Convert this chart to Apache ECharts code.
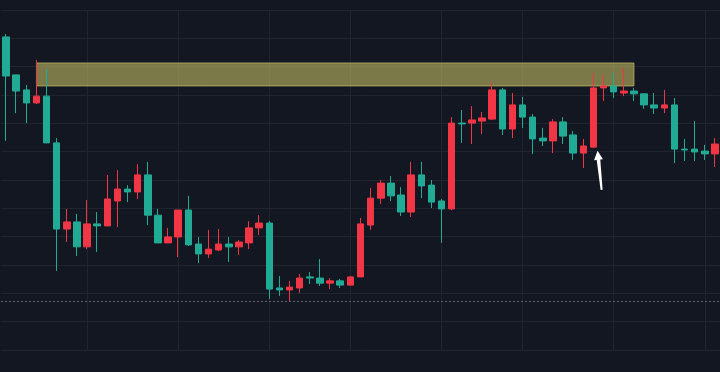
<!DOCTYPE html>
<html>
<head>
<meta charset="utf-8">
<script src="https://cdn.jsdelivr.net/npm/echarts@6/dist/echarts.min.js"></script>
<style>
html,body{margin:0;padding:0;background:#131722;}
#c{width:720px;height:372px;}
</style>
</head>
<body>
<div id="c"></div>
<script>
// 71 sessions (no labels shown in the reference)
const categories = Array.from({length: 71}, (_, i) => 'S' + (i + 1));

const opens = [110.5,97.1,91.8,87.2,89.6,73.1,42.7,45.2,36.4,44.5,
  43.8,52.6,56.8,55.8,61.8,47.6,37.8,39.9,49.4,37.4,
  33.9,35.3,37.4,36.4,37.8,43.1,44.8,21.9,21.2,21.9,
  25.8,25.4,23.6,24.4,22.9,25.8,44.1,53.6,58.9,54.7,
  48.7,61.8,58.2,52.6,49.8,80.1,80.1,80.8,81.5,91.8,
  78.0,86.5,82.2,74.8,73.8,80.5,75.9,69.5,71.6,92.5,
  93.2,90.7,91.4,90.4,86.5,85.4,86.5,70.9,70.9,70.2,
  69.2];
const closes = [96.7,91.4,87.2,89.6,73.1,42.7,45.2,36.4,44.5,43.8,
  53.3,56.8,55.8,61.8,47.6,37.8,39.9,49.4,37.1,33.9,
  35.6,37.4,36.4,38.1,43.1,44.8,21.5,21.2,22.2,25.4,
  25.4,23.6,24.4,22.9,25.8,44.5,53.6,58.9,54.4,48.7,
  61.8,57.9,52.2,49.8,80.1,79.8,81.2,81.9,91.8,78.0,
  86.5,82.2,74.5,73.8,80.5,75.5,69.5,72.0,92.5,93.2,
  91.1,91.4,90.4,86.5,85.4,86.5,70.9,70.6,69.9,69.2,
  72.7];
const lows = [73.8,83.6,80.1,86.8,73.1,27.9,38.1,33.2,35.6,34.6,
  43.8,43.4,52.2,53.3,44.1,37.8,37.8,32.8,36.7,30.7,
  32.5,34.9,31.1,33.5,35.6,40.6,18.0,19.1,17.3,20.1,
  23.3,22.6,21.5,21.9,22.9,25.8,42.4,51.5,52.6,47.3,
  46.9,53.6,50.1,37.8,49.4,73.1,72.7,76.2,81.2,75.9,
  74.8,78.4,69.2,72.0,69.5,72.7,67.1,64.2,71.3,87.9,
  88.9,89.6,87.9,85.1,83.3,83.6,66.0,66.7,66.7,67.1,
  64.6];
const highs = [111.5,97.1,93.5,102.4,99.2,74.8,49.8,48.0,52.9,48.7,
  61.8,63.5,58.2,65.6,66.4,49.8,43.1,49.4,54.4,39.9,
  42.4,42.7,39.9,38.8,45.5,47.6,45.5,26.1,24.4,26.8,
  27.5,32.1,25.4,25.1,26.1,46.6,57.2,60.0,61.4,57.5,
  66.4,66.4,60.0,53.3,82.2,84.7,86.1,84.0,94.6,92.5,
  90.7,89.3,83.3,78.4,81.5,82.2,77.3,74.5,97.8,97.1,
  97.8,99.5,92.5,90.7,90.7,91.8,88.9,74.5,80.8,72.4,
  74.8];

// resistance zone: from session index 3 to 62, price 93.2 .. 101.3
const zoneIndex = [3, 62];
const zonePrice = [93.2, 101.3];
// dotted price line
const priceLine = 17.3;
// vertical time grid lines (session indices)
const timeGrid = [8, 17, 26, 34, 43, 51, 60, 69];
// arrow annotation: tip (x index, price), tail (x index, price)
const arrow = [58.41, 70.3, 58.81, 56.5];

const candleData = categories.map((_, i) => [opens[i], closes[i], lows[i], highs[i]]);
const gridColor = '#20242f';

const chart = echarts.init(document.getElementById('c'), null, {renderer: 'canvas'});
chart.setOption({
  animation: false,
  backgroundColor: '#131722',
  grid: {left: 1, right: -1, top: 10, bottom: 22},
  xAxis: [
    {type: 'category', data: categories, boundaryGap: true,
     axisLine: {show: false}, axisTick: {show: false}, axisLabel: {show: false}, splitLine: {show: false}},
    {type: 'value', min: -0.5, max: 70.5, show: false}
  ],
  yAxis: {type: 'value', min: 0, max: 120, interval: 10,
    axisLine: {show: false}, axisTick: {show: false}, axisLabel: {show: false},
    splitLine: {show: true, lineStyle: {color: gridColor, width: 1}}},
  series: [
    {type: 'line', data: [], z: 0, silent: true,
     markLine: {z: 0, symbol: 'none', silent: true, label: {show: false},
       lineStyle: {color: gridColor, type: 'solid', width: 1},
       data: timeGrid.map(i => ({xAxis: categories[i]}))}},
    {type: 'candlestick', z: 3, barWidth: 7, data: candleData,
     itemStyle: {color: '#f23645', color0: '#22ab94', borderColor: '#f23645', borderColor0: '#22ab94', borderWidth: 1},
     markArea: {z: 2, silent: true, itemStyle: {color: 'rgba(192,186,97,0.6)', borderColor: 'rgba(192,186,97,0.75)', borderWidth: 1},
       data: [[{xAxis: categories[zoneIndex[0]], yAxis: zonePrice[1]}, {xAxis: categories[zoneIndex[1]], yAxis: zonePrice[0]}]]},
     markLine: {z: 1, symbol: 'none', silent: true, label: {show: false},
       lineStyle: {color: '#5d6170', type: [2, 2], width: 1},
       data: [{yAxis: priceLine}]}},
    {type: 'custom', xAxisIndex: 1, yAxisIndex: 0, z: 5, silent: true,
     data: [arrow], encode: {x: [0, 2], y: [1, 3]},
     renderItem: function (params, api) {
       const tip = api.coord([api.value(0), api.value(1)]);
       const tail = api.coord([api.value(2), api.value(3)]);
       const dx = tail[0] - tip[0], dy = tail[1] - tip[1];
       const len = Math.hypot(dx, dy);
       const ux = dx / len, uy = dy / len;
       const px = -uy, py = ux;
       const headLen = 9, headHalf = 4.5, sTop = 1.8, sTail = 1.0;
       const hb = [tip[0] + ux * headLen, tip[1] + uy * headLen];
       const pts = [
         tip,
         [hb[0] + px * headHalf, hb[1] + py * headHalf],
         [hb[0] + px * sTop, hb[1] + py * sTop],
         [tail[0] + px * sTail, tail[1] + py * sTail],
         [tail[0] - px * sTail, tail[1] - py * sTail],
         [hb[0] - px * sTop, hb[1] - py * sTop],
         [hb[0] - px * headHalf, hb[1] - py * headHalf]
       ];
       return {type: 'polygon', shape: {points: pts}, style: {fill: '#ffffff'}};
     }}
  ]
});
</script>
</body>
</html>
